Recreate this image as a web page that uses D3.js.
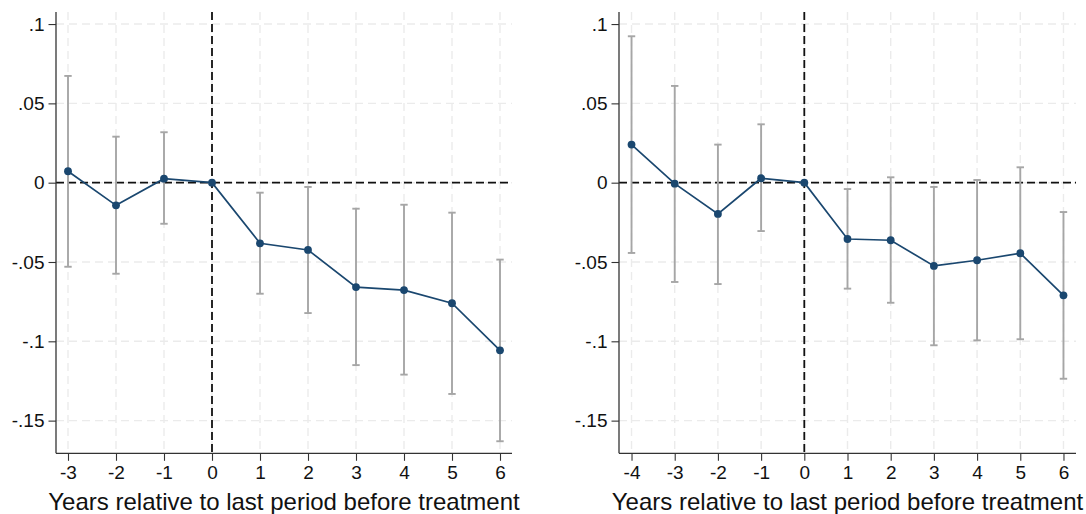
<!DOCTYPE html>
<html><head><meta charset="utf-8">
<script src="https://cdn.jsdelivr.net/npm/d3@7"></script>
<style>body{margin:0;background:#fff}svg{display:block}text{font-family:"Liberation Sans",Arial,sans-serif}</style>
</head><body>
<svg id="c" width="1086" height="514"></svg>
<script>
const leftYears = [-3,-2,-1,0,1,2,3,4,5,6];
const leftCoef  = [0.0072,-0.0143,0.0025,0,-0.0382,-0.0424,-0.0658,-0.0677,-0.0760,-0.1057];
const leftLo    = [-0.0530,-0.0574,-0.0259,0,-0.0700,-0.0822,-0.1150,-0.1210,-0.1332,-0.1630];
const leftHi    = [0.0673,0.0290,0.0318,0,-0.0063,-0.0027,-0.0164,-0.0139,-0.0189,-0.0485];

const rightYears = [-4,-3,-2,-1,0,1,2,3,4,5,6];
const rightCoef  = [0.0240,-0.0006,-0.0197,0.0028,0,-0.0355,-0.0363,-0.0525,-0.0489,-0.0445,-0.0710];
const rightLo    = [-0.0443,-0.0626,-0.0639,-0.0305,0,-0.0668,-0.0757,-0.1025,-0.0994,-0.0987,-0.1236];
const rightHi    = [0.0923,0.0610,0.0240,0.0368,0,-0.0040,0.0034,-0.0027,0.0017,0.0097,-0.0185];

const yTicks = [0.1,0.05,0,-0.05,-0.1,-0.15];
const yTickLabels = [".1",".05","0","-.05","-.1","-.15"];
const xTitle = "Years relative to last period before treatment";

const svg = d3.select("#c");

function panel(cfg){
  const {x0,x1,xdom,years,coef,lo,hi} = cfg;
  const top=12, bottom=453.3;
  const x = d3.scaleLinear().domain(xdom).range([x0,x1]);
  const y = d3.scaleLinear().domain([0.1076,-0.1706]).range([top,bottom]);
  const g = svg.append("g");
  // grid
  g.selectAll(".gy").data(yTicks).join("line")
    .attr("x1",x0).attr("x2",x1).attr("y1",d=>y(d)).attr("y2",d=>y(d))
    .attr("stroke","#ebebeb").attr("stroke-width",1.4).attr("stroke-dasharray","8,5");
  g.selectAll(".gx").data(years).join("line")
    .attr("y1",top).attr("y2",bottom).attr("x1",d=>x(d)).attr("x2",d=>x(d))
    .attr("stroke","#ebebeb").attr("stroke-width",1.4).attr("stroke-dasharray","8,5");
  // reference lines
  g.append("line").attr("x1",x0).attr("x2",x1).attr("y1",y(0)).attr("y2",y(0))
    .attr("stroke","#111").attr("stroke-width",1.8).attr("stroke-dasharray","8,4");
  g.append("line").attr("x1",x(0)).attr("x2",x(0)).attr("y1",top).attr("y2",bottom)
    .attr("stroke","#111").attr("stroke-width",1.8).attr("stroke-dasharray","8,4");
  // CIs
  const ci = years.map((d,i)=>({x:d,lo:lo[i],hi:hi[i]})).filter(d=>d.lo!==d.hi);
  g.selectAll(".ci").data(ci).join("line")
    .attr("x1",d=>x(d.x)).attr("x2",d=>x(d.x)).attr("y1",d=>y(d.lo)).attr("y2",d=>y(d.hi))
    .attr("stroke","#a6a6a6").attr("stroke-width",1.9);
  ["lo","hi"].forEach(k=>{
    g.selectAll(".cap"+k).data(ci).join("line")
      .attr("x1",d=>x(d.x)-3.7).attr("x2",d=>x(d.x)+3.7).attr("y1",d=>y(d[k])).attr("y2",d=>y(d[k]))
      .attr("stroke","#a6a6a6").attr("stroke-width",1.9);
  });
  // line
  const pts = years.map((d,i)=>[d,coef[i]]);
  g.append("path").attr("d",d3.line().x(d=>x(d[0])).y(d=>y(d[1]))(pts))
    .attr("fill","none").attr("stroke","#1a476f").attr("stroke-width",1.7);
  g.selectAll(".pt").data(pts).join("circle")
    .attr("cx",d=>x(d[0])).attr("cy",d=>y(d[1])).attr("r",3.9).attr("fill","#1a476f");
  // axes
  const ya = g.append("g").attr("transform",`translate(${x0},0)`)
    .call(d3.axisLeft(y).tickValues(yTicks).tickFormat((d,i)=>yTickLabels[i]).tickSize(7.5).tickPadding(4));
  ya.select(".domain").attr("d",`M0,${top}V${bottom}`);
  const xa = g.append("g").attr("transform",`translate(0,${bottom})`)
    .call(d3.axisBottom(x).tickValues(years).tickFormat(d=>String(d)).tickSize(7.5).tickPadding(5));
  xa.select(".domain").attr("d",`M${x0},0H${x1}`);
  [ya,xa].forEach(a=>{
    a.attr("font-size",19).attr("font-family",null);
    a.select(".domain").attr("stroke","#333").attr("stroke-width",1.3);
    a.selectAll(".tick line").attr("stroke","#333").attr("stroke-width",1.1);
    a.selectAll(".tick text").attr("font-size",19).attr("fill","#111");
  });
  g.append("text").attr("x",(x0+x1)/2).attr("y",510).attr("text-anchor","middle")
    .attr("font-size",24).attr("fill","#111").text(xTitle);
}

panel({x0:56,x1:512,xdom:[-3.25,6.25],years:leftYears,coef:leftCoef,lo:leftLo,hi:leftHi});
panel({x0:619,x1:1076,xdom:[-4.29,6.29],years:rightYears,coef:rightCoef,lo:rightLo,hi:rightHi});
</script>
</body></html>
